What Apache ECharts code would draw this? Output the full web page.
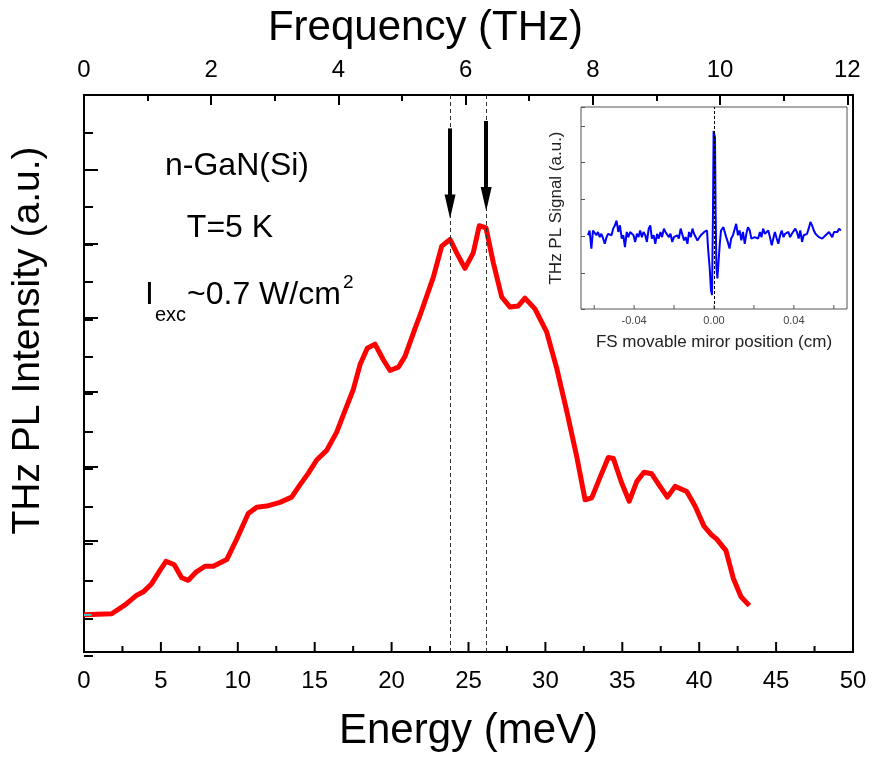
<!DOCTYPE html>
<html>
<head>
<meta charset="utf-8">
<title>THz PL spectrum n-GaN(Si)</title>
<script src="https://cdn.jsdelivr.net/npm/echarts@6/dist/echarts.min.js"></script>
<style>
  html, body { margin: 0; padding: 0; background: #fff; }
  #chart { width: 874px; height: 757px; }
</style>
</head>
<body>
<div id="chart"></div>
<script>
// red spectrum (meV, a.u.)
const energy = [0, 1.8, 2.67, 3.43, 3.86, 4.40, 4.94, 5.33, 5.87, 6.35, 6.78, 7.28, 7.87, 8.41, 9.28, 9.93,
  10.68, 11.23, 11.88, 12.74, 13.50, 14.04, 14.58, 15.13, 15.78, 16.43, 16.97, 17.51, 17.95, 18.42, 18.92,
  19.46, 19.90, 20.44, 20.87, 21.52, 21.85, 22.71, 23.26, 23.80, 24.23, 24.77, 25.31, 25.70, 26.14, 26.61,
  27.16, 27.70, 28.24, 28.67, 29.32, 30.08, 30.73, 31.38, 32.04, 32.58, 33.01, 33.66, 34.09, 34.42, 34.96,
  35.45, 35.94, 36.41, 36.91, 37.45, 37.93, 38.43, 39.19, 39.73, 40.31, 40.81, 41.14, 41.74, 42.22, 42.72, 43.26]
const intensity = [0, 0.03, 0.27, 0.53, 0.62, 0.84, 1.20, 1.44, 1.35, 1.00, 0.93, 1.15, 1.31, 1.31, 1.49, 2.04,
  2.73, 2.90, 2.93, 3.03, 3.17, 3.50, 3.81, 4.17, 4.43, 4.92, 5.50, 6.07, 6.74, 7.18, 7.29,
  6.87, 6.58, 6.67, 6.96, 7.71, 8.07, 9.09, 9.93, 10.11, 9.75, 9.33, 9.75, 10.48, 10.42, 9.49,
  8.56, 8.29, 8.32, 8.53, 8.24, 7.62, 6.65, 5.50, 4.26, 3.10, 3.15, 3.81, 4.24, 4.21, 3.55,
  3.06, 3.59, 3.84, 3.80, 3.46, 3.17, 3.46, 3.32, 2.93, 2.39, 2.15, 2.04, 1.73, 0.98, 0.49, 0.25]

// the two marked peaks (meV) and the arrows above them
const peakEnergy = [23.8, 26.15]
const arrowTop = [13.1, 13.3]
const arrowEnd = [11.0, 11.2]

// tick positions along the bottom edges
const energyTicks = [0, 5, 10, 15, 20, 25, 30, 35, 40, 45, 50]
const energyMinorTicks = [2.5, 7.5, 12.5, 17.5, 22.5, 27.5, 32.5, 37.5, 42.5, 47.5]
const mirrorTicks = [-0.06, -0.04, -0.02, 0, 0.02, 0.04, 0.06]

// inset: interferogram vs mirror position (cm)
const mirrorPos = [-0.0631, -0.0623, -0.0614, -0.0606, -0.0597, -0.0589, -0.0581, -0.0572, -0.0564, -0.0555,
  -0.0547, -0.0538, -0.0530, -0.0522, -0.0513, -0.0505, -0.0496, -0.0488, -0.0479, -0.0471,
  -0.0462, -0.0454, -0.0446, -0.0437, -0.0429, -0.0420, -0.0412, -0.0403, -0.0395, -0.0386,
  -0.0378, -0.0370, -0.0361, -0.0353, -0.0344, -0.0336, -0.0327, -0.0319, -0.0311, -0.0302,
  -0.0294, -0.0285, -0.0277, -0.0268, -0.0260, -0.0251, -0.0243, -0.0235, -0.0226, -0.0218,
  -0.0209, -0.0201, -0.0192, -0.0184, -0.0176, -0.0167, -0.0159, -0.0150, -0.0142, -0.0133,
  -0.0125, -0.0116, -0.0108, -0.0100, -0.0091, -0.0083, -0.0074, -0.0066, -0.0057, -0.0049, -0.0041,
  -0.0035, -0.0029, -0.0022, -0.0015, -0.0010, -0.0005, -0.0002, 0.0005, 0.0008, 0.0012, 0.0017, 0.0022, 0.0029, 0.0035, 0.0047,
  0.0052, 0.0061, 0.0069, 0.0078, 0.0086, 0.0095, 0.0103, 0.0111, 0.0120, 0.0128,
  0.0137, 0.0145, 0.0154, 0.0162, 0.0170, 0.0179, 0.0187, 0.0196, 0.0204, 0.0213,
  0.0221, 0.0230, 0.0238, 0.0246, 0.0255, 0.0263, 0.0272, 0.0280, 0.0289, 0.0297,
  0.0305, 0.0314, 0.0322, 0.0331, 0.0339, 0.0348, 0.0356, 0.0365, 0.0373, 0.0381,
  0.0390, 0.0398, 0.0407, 0.0415, 0.0424, 0.0432, 0.0441, 0.0449, 0.0457, 0.0466,
  0.0474, 0.0483, 0.0491, 0.0500, 0.0508, 0.0516, 0.0525, 0.0533, 0.0542, 0.0550,
  0.0559, 0.0567, 0.0576, 0.0584, 0.0592, 0.0601, 0.0609, 0.0618, 0.0626, 0.0635]
const signal = [0.03, 0.16, -0.33, 0.16, 0.19, 0.03, 0.12, -0.02, 0.07, -0.06,
  -0.20, -0.02, 0.07, 0.12, 0.03, 0.21, 0.30, 0.43, 0.12, 0.30,
  -0.06, 0.03, -0.29, 0.12, -0.02, 0.12, 0.16, 0.03, -0.15, 0.07,
  -0.02, 0.16, -0.02, 0.12, 0.03, -0.15, 0.21, 0.30, -0.06, 0.03,
  -0.20, 0.07, -0.06, 0.12, -0.02, 0.21, 0.12, 0.16, -0.02, 0.07,
  -0.15, -0.02, -0.06, 0.03, -0.06, 0.21, 0.16, -0.11, -0.02, -0.20,
  0.12, -0.02, 0.21, 0.07, 0.03, -0.11, -0.06, 0.03, -0.02, 0.12, 0.16,
  0.16, -0.38, -0.83, -1.46, -1.59, 0.70, 2.86, 2.68, 0.70, -0.83, -1.14, -0.74, -0.20, 0.16, 0.25,
  0.21, -0.02, -0.15, -0.33, -0.06, 0.03, -0.02, 0.34, 0.03, 0.16,
  -0.11, 0.12, -0.20, 0.07, 0.25, 0.16, -0.06, -0.11, -0.02, 0.03,
  -0.06, 0.12, -0.02, 0.21, 0.07, 0.03, 0.16, -0.02, -0.24, -0.06,
  0.12, -0.06, -0.20, 0.03, 0.16, -0.02, 0.07, 0.03, 0.12, -0.02,
  0.07, 0.12, 0.21, 0.12, -0.06, 0.16, -0.15, 0.03, -0.02, 0.07,
  0.21, 0.39, 0.30, 0.16, 0.07, 0.12, -0.02, 0.03, -0.06, -0.06,
  0.03, 0.07, 0.12, 0.16, -0.02, 0.12, 0.16, 0.12, 0.21, 0.16]

const meVtoTHz = 0.2418
const font = 'Liberation Sans, Arial, Helvetica, sans-serif'

// axis ranges (y of the main plot in tick units, inset signal in a.u.)
const yMin = -1, yMax = 14
const insetYMin = -1.97, insetYMax = 3.51

let chartDom = document.getElementById('chart')
let myChart = echarts.init(chartDom)

const tickStyle = { color: '#000', width: 2 }
const insetTick = { color: '#555', width: 1 }
const noLine = () => ({ show: false, onZero: false })

// main markLine: dashed lines at the peaks and the two arrows
let marks = peakEnergy.map(e => ({ xAxis: e, lineStyle: { type: [4, 3], color: '#333', width: 1 } }))
peakEnergy.forEach((e, i) => {
  marks.push([
    { coord: [e, arrowTop[i]], symbol: 'none', lineStyle: { type: 'solid', color: '#000', width: 4 } },
    { coord: [e, arrowEnd[i]], symbol: 'triangle', symbolSize: [11, 24] }
  ])
})

const annotations = [
  { type: 'text', x: 237, y: 166, style: { text: 'n-GaN(Si)', font: '32px ' + font, fill: '#000', align: 'center', verticalAlign: 'middle' } },
  { type: 'text', x: 230, y: 228, style: { text: 'T=5 K', font: '32px ' + font, fill: '#000', align: 'center', verticalAlign: 'middle' } },
  { type: 'text', x: 145, y: 295, style: { text: 'I', font: '32px ' + font, fill: '#000', align: 'left', verticalAlign: 'middle' } },
  { type: 'text', x: 155, y: 315, style: { text: 'exc', font: '20px ' + font, fill: '#000', align: 'left', verticalAlign: 'middle' } },
  { type: 'text', x: 187, y: 295, style: { text: '~0.7 W/cm', font: '32px ' + font, fill: '#000', align: 'left', verticalAlign: 'middle' } },
  { type: 'text', x: 343, y: 283, style: { text: '2', font: '19px ' + font, fill: '#000', align: 'left', verticalAlign: 'middle' } }
]

let option = {
  animation: false,
  backgroundColor: '#fff',
  textStyle: { fontFamily: font },
  grid: [
    { left: 84, right: 21, top: 95, bottom: 101, show: true, borderColor: '#000', borderWidth: 2, backgroundColor: 'transparent' },
    // same box, only carries the minor ticks
    { left: 84, right: 21, top: 95, bottom: 101 },
    // inset
    { left: 581, right: 27, top: 107, bottom: 448, show: true, borderColor: '#555', borderWidth: 1, backgroundColor: '#fff' }
  ],
  xAxis: [
    {
      gridIndex: 0, type: 'value', position: 'bottom', min: 0, max: 50, interval: 5,
      axisLine: noLine(),
      axisTick: { show: false },
      splitLine: { show: false },
      axisLabel: { fontSize: 24, color: '#000', margin: 17, fontFamily: font },
      name: 'Energy (meV)', nameLocation: 'middle', nameGap: 58,
      nameTextStyle: { fontSize: 42, color: '#000', fontFamily: font }
    },
    {
      gridIndex: 0, type: 'value', position: 'top', min: 0, max: 50 * meVtoTHz, splitNumber: 6,
      axisLine: noLine(),
      axisTick: { inside: true, length: 10, lineStyle: tickStyle },
      splitLine: { show: false },
      axisLabel: {
        fontSize: 24, color: '#000', margin: 13, fontFamily: font,
        formatter: v => (Number.isInteger(v) && v % 2 === 0 ? String(v) : '')
      },
      name: 'Frequency (THz)', nameLocation: 'middle', nameGap: 46,
      nameTextStyle: { fontSize: 42, color: '#000', fontFamily: font, padding: [0, 86, 0, 0] }
    },
    {
      gridIndex: 1, type: 'value', position: 'top', min: 0, max: 50 * meVtoTHz, splitNumber: 12,
      axisLine: noLine(),
      axisTick: { inside: true, length: 6, lineStyle: tickStyle },
      axisLabel: { show: false },
      splitLine: { show: false }
    },
    {
      gridIndex: 2, type: 'value', position: 'bottom', min: -0.0666, max: 0.0666, splitNumber: 7,
      axisLine: noLine(),
      axisTick: { show: false },
      splitLine: { show: false },
      axisLabel: {
        fontSize: 11, color: '#444', margin: 6, fontFamily: font,
        formatter: v => (Math.abs(Math.abs(v) - 0.04) < 1e-6 || Math.abs(v) < 1e-6 ? v.toFixed(2) : '')
      },
      name: 'FS movable miror position (cm)', nameLocation: 'middle', nameGap: 25,
      nameTextStyle: { fontSize: 17, color: '#222', fontFamily: font }
    }
  ],
  yAxis: [
    {
      gridIndex: 0, type: 'value', min: yMin, max: yMax, splitNumber: 7,
      axisLine: noLine(),
      axisTick: { inside: true, length: 14, lineStyle: tickStyle },
      axisLabel: { show: false },
      splitLine: { show: false },
      name: 'THz PL Intensity (a.u.)', nameLocation: 'middle', nameGap: 36,
      nameTextStyle: { fontSize: 39, color: '#000', fontFamily: font, padding: [0, 0, 0, 66] }
    },
    {
      gridIndex: 1, type: 'value', min: yMin, max: yMax, splitNumber: 15,
      axisLine: noLine(),
      axisTick: { inside: true, length: 9, lineStyle: tickStyle },
      axisLabel: { show: false },
      splitLine: { show: false }
    },
    {
      gridIndex: 2, type: 'value', min: insetYMin, max: insetYMax, splitNumber: 5,
      axisLine: noLine(),
      axisTick: { inside: true, length: 4, lineStyle: insetTick },
      axisLabel: { show: false },
      splitLine: { show: false },
      name: 'THz PL Signal (a.u.)', nameLocation: 'middle', nameGap: 16,
      nameTextStyle: { fontSize: 17, color: '#222', fontFamily: font }
    }
  ],
  series: [
    {
      type: 'line', xAxisIndex: 0, yAxisIndex: 0,
      data: energy.map((e, i) => [e, intensity[i]]),
      symbol: 'none',
      lineStyle: { color: '#ff0000', width: 5, join: 'round' },
      z: 3,
      markLine: { silent: true, symbol: 'none', label: { show: false }, data: marks }
    },
    {
      // little cyan stub at the start of the trace
      type: 'line', xAxisIndex: 0, yAxisIndex: 0,
      data: [[0, 0], [0.5, 0]],
      symbol: 'none',
      lineStyle: { color: '#33cccc', width: 2 },
      z: 4
    },
    {
      type: 'line', xAxisIndex: 3, yAxisIndex: 2,
      data: mirrorPos.map((x, i) => [x, signal[i]]),
      symbol: 'none',
      lineStyle: { color: '#0000ff', width: 2 },
      z: 3,
      markLine: {
        silent: true, symbol: 'none', label: { show: false },
        lineStyle: { type: [3, 2], color: '#000', width: 1 },
        data: [{ xAxis: 0 }]
      }
    }
  ],
  graphic: annotations
}

option && myChart.setOption(option)

// upward ticks on the bottom edges, placed through the chart's own scales
function bottomTicks(gridIndex, values, y0, len, stroke, width) {
  return values.map(v => {
    const p = myChart.convertToPixel({ gridIndex: gridIndex }, [v, y0])
    return {
      type: 'line', z: 100, silent: true,
      shape: { x1: p[0], y1: p[1], x2: p[0], y2: p[1] - len },
      style: { stroke: stroke, lineWidth: width }
    }
  })
}
let tickLines = []
  .concat(bottomTicks(0, energyTicks, yMin, 10, '#000', 2))
  .concat(bottomTicks(0, energyMinorTicks, yMin, 6, '#000', 2))
  .concat(bottomTicks(2, mirrorTicks, insetYMin, 4, '#555', 1))
myChart.setOption({ graphic: annotations.concat(tickLines) })
</script>
</body>
</html>
